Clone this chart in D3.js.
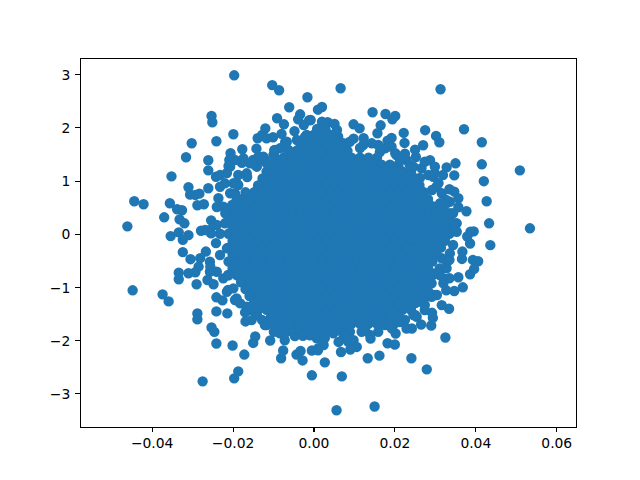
<!DOCTYPE html>
<html><head><meta charset="utf-8">
<script src="https://cdn.jsdelivr.net/npm/d3@7/dist/d3.min.js"></script>
<style>html,body{margin:0;padding:0;background:#fff}svg{display:block}</style>
</head><body><svg id="c" width="640" height="480"></svg>
<script>
const xTicks = [-0.04,-0.02,0,0.02,0.04,0.06];
const xTickLabels = ["\u22120.04","\u22120.02","0.00","0.02","0.04","0.06"];
const yTicks = [-3,-2,-1,0,1,2,3];
const yTickLabels = ["\u22123","\u22122","\u22121","0","1","2","3"];
const xDomain = [-0.05771,0.06488];
const yDomain = [-3.635,3.312];

// Scattered points readable at the edge of the cloud, [x, y]
const upperLeft = [[-.0196,2.979],[-.0102,2.794],[-.0085,2.699],[-.0015,2.567],[-.0060,2.379],[.0011,2.333],[-.0252,2.214],[-.0250,2.096],[-.0090,2.171],[-.0033,2.246],[-.0038,2.152],[-.0011,2.133],[-.0073,2.058],[-.0024,2.045],[-.0119,1.982],[-.0047,1.929],[.0009,1.972],[-.0198,1.872],[-.0240,1.74],[-.0301,1.702],[-.0138,1.797],[-.0127,1.859],[-.0079,1.878],[-.0100,1.816],[-.0116,1.797],[-.0176,1.589],[-.0141,1.6],[-.0097,1.57],[-.0205,1.514],[-.0315,1.438],[-.0260,1.382],[-.0208,1.387],[-.0210,1.274],[-.0260,1.193],[-.0351,1.08],[-.0309,.876],[-.0260,.857],[-.0305,.737],[-.0282,.755],[-.0292,.731],[-.0443,.612],[-.0420,.555],[-.0355,.574],[-.0337,.461],[-.0325,.442],[-.0287,.537],[-.0271,.555],[-.0369,.31],[-.0331,.272],[-.0319,.197],[-.0460,.14],[-.0253,.253],[-.0278,.057],[-.0353,-.043],[-.0333,.027],[-.0309,-.025],[-.0241,1.072],[-.0231,1.104],[-.0239,.504],[-.0235,.669],[-.0218,.386],[-.0268,.07],[-.0253,.008],[-.0214,1.142],[-.0190,.952],[-.0206,.763],[-.0177,1.336],[-.0149,1.387],[-.0124,1.449]];
const upperRight = [[.0067,2.737],[.0314,2.718],[.0021,2.384],[.0146,2.284],[.0178,2.252],[.0202,2.214],[.0195,2.152],[-.0007,2.139],[.0021,2.107],[.0035,2.096],[.0052,2.063],[.0099,2.058],[.0166,2.039],[.0114,1.982],[.0058,1.953],[.0030,1.953],[.0276,1.948],[.0303,1.84],[.0372,1.966],[.0223,1.897],[.0158,1.891],[.0311,1.721],[.0416,1.721],[.0193,1.802],[.0183,1.751],[.0225,1.708],[.0099,1.789],[.0124,1.797],[.0271,1.665],[.0251,1.582],[.0226,1.506],[.0253,1.444],[.0202,1.514],[.0288,1.382],[.0275,1.355],[.0351,1.325],[.0416,1.306],[.0329,1.249],[.0300,1.261],[.0510,1.193],[.0348,1.099],[.0320,1.104],[.0296,1.072],[.0421,.989],[.0309,.952],[.0336,.838],[.0348,.793],[.0358,.669],[.0428,.612],[.0328,.637],[.0313,.574],[.0378,.423],[.0358,.499],[.0338,.386],[.0434,.197],[.0346,.197],[.0535,.103],[.0396,.046],[.0380,-.051],[.0350,.07],[.0388,.038]];
const lowerLeft = [[-.0323,-.113],[-.0323,-.345],[-.0304,-.477],[-.0241,-.175],[-.0266,-.334],[-.0280,-.458],[-.0284,-.617],[-.0333,-.73],[-.0333,-.855],[-.0309,-.742],[-.0292,-.723],[-.0289,-.949],[-.0262,-.868],[-.0247,-.949],[-.0255,-.617],[-.0447,-1.062],[-.0373,-1.138],[-.0358,-1.27],[-.0240,-1.194],[-.0225,-1.251],[-.0181,-1.308],[-.0287,-1.496],[-.0287,-1.609],[-.0240,-1.458],[-.0213,-1.496],[-.0169,-1.477],[-.0168,-1.647],[-.0153,-1.623],[-.0252,-1.76],[-.0245,-1.843],[-.0144,-1.93],[-.0149,-2.051],[-.0098,-1.843],[-.0107,-2.006],[-.0240,-2.062],[-.0200,-2.1],[-.0171,-2.27],[-.0071,-2],[-.0075,-2.194],[-.0080,-2.34],[-.0026,-1.919],[-.0009,-1.906],[-.0004,-2.194],[.0012,-2.151],[-.0042,-2.27],[-.0032,-2.202],[-.0027,-2.38],[-.0186,-2.585],[-.0196,-2.717],[-.0274,-2.773],[-.0004,-2.66],[-.0120,-1.717],[-.0083,-1.811]];
const lowerRight = [[.0437,-.213],[.0387,-.183],[.0368,-.334],[.0367,-.472],[.0336,-.491],[.0394,-.491],[.0407,-.515],[.0397,-.66],[.0387,-.76],[.0358,-.817],[.0336,-.836],[.0321,-.93],[.0369,-1.006],[.0348,-1.075],[.0328,-1.062],[.0292,-1.183],[.0317,-1.34],[.0335,-1.409],[.0293,-1.485],[.0295,-1.579],[.0291,-1.723],[.0266,-1.704],[.0243,-1.779],[.0230,-1.779],[.0255,-1.56],[.0203,-1.874],[.0194,-1.779],[.0326,-1.949],[.0183,-2.057],[.0201,-2.081],[.0141,-1.968],[.0163,-2.289],[.0134,-2.34],[.0242,-2.34],[.0280,-2.548],[.0107,-2.126],[.0091,-2.175],[.0068,-2.221],[.0099,-2],[.0062,-2.032],[.0025,-2.089],[.0011,-2.189],[.0028,-2.416],[.0070,-2.68],[.0057,-3.317],[.0151,-3.245]];

// Crowded band between the solid core and the scattered points
const bandUpperLeft = [[-.0206,1.262],[-.0194,1.387],[-.0173,1.419],[-.0157,1.325],[-.0136,1.449],[-.0120,1.387],[-.0099,1.481],[-.0083,1.607],[-.0066,1.731],[-.0041,1.763],[-.0017,1.857],[0,1.857],[-.0062,1.575],[-.0231,.885],[-.0219,.949],[-.0198,.949],[-.0186,1.105],[-.0165,1.137],[-.0140,1.262],[-.0116,1.325],[-.0194,.761],[-.0223,.509],[-.0206,.479],[-.0190,.635],[-.0219,.197],[-.0256,.071],[-.0239,.165],[-.0231,0],[-.0164,1.068],[-.0186,.917],[-.0144,1.293],[-.0127,1.387],[-.0201,.541],[-.0070,1.726],[-.0095,1.575]];
const bandUpperRight = [[.0074,1.701],[.0090,1.731],[.0123,1.669],[.0144,1.701],[.0160,1.669],[.0177,1.607],[.0193,1.637],[.0205,1.481],[.0230,1.387],[.0247,1.262],[.0267,1.231],[.0284,1.105],[.0300,1.137],[.0304,.885],[.0317,.761],[.0321,.509],[.0337,.603],[.0345,.385],[.0354,.197],[.0354,.039],[.0341,.133],[.0041,1.857],[.0016,1.857],[.0061,1.825],[.0214,1.387],[.0238,1.293],[.0263,1.049],[.0293,.823],[.0325,.541],[.0115,1.613],[.0164,1.538]];
const bandLowerLeft = [[-.0231,-.399],[-.0256,-.525],[-.0239,-.713],[-.0223,-.837],[-.0214,-1.088],[-.0190,-1.213],[-.0198,-1.025],[-.0165,-1.371],[-.0140,-1.527],[-.0116,-1.715],[-.0099,-1.683],[-.0083,-1.871],[-.0066,-1.841],[-.0038,-1.809],[-.0009,-1.871],[-.0058,-1.715],[-.0214,-.273],[-.0256,-.713],[-.0211,-1.057],[-.0194,-1.245],[-.0157,-1.433],[-.0127,-1.621],[-.0095,-1.715],[-.0211,-.775],[-.0046,-1.921]];
const bandLowerRight = [[.0345,-.211],[.0337,-.367],[.0317,-.461],[.0312,-.649],[.0329,-.649],[.0296,-.743],[.0321,-.837],[.0292,-.931],[.0284,-1.088],[.0300,-1.151],[.0267,-1.277],[.0275,-1.433],[.0247,-1.527],[.0226,-1.621],[.0201,-1.683],[.0177,-1.683],[.0160,-1.841],[.0140,-1.903],[.0119,-1.841],[.0090,-1.841],[.0074,-1.965],[.0049,-1.871],[.0024,-1.903],[.0008,-1.965],[.0086,-2.029],[.0330,-.530],[.0312,-.775],[.0305,-1.151],[.0275,-1.339],[.0251,-1.527],[.0214,-1.659],[.0177,-1.715],[.0127,-1.809],[.0078,-1.903],[.0028,-1.959]];

// Solid core of the cloud: single points cannot be read there, so these are
// estimated row by row from its outline.
const coreY = [1.82,1.69,1.56,1.43,1.30,1.17,1.04,.91,.78,.65,.52,.39,.26,.13,0,-.13,-.26,-.39,-.52,-.65,-.78,-.91,-1.04,-1.17,-1.30,-1.43,-1.56,-1.69,-1.82];
const coreX = [
[-.0021,0,.0021,.0042],
[-.0032,-.0011,.0010,.0031,.0052],
[-.0063,-.0042,-.0021,0,.0021,.0042,.0063,.0084],
[-.0095,-.0074,-.0053,-.0032,-.0011,.0010,.0031,.0052,.0073,.0094,.0115,.0136,.0157],
[-.0105,-.0084,-.0063,-.0042,-.0021,0,.0021,.0042,.0063,.0084,.0105,.0126,.0147,.0168,.0189,.0210],
[-.0116,-.0095,-.0074,-.0053,-.0032,-.0011,.0010,.0031,.0052,.0073,.0094,.0115,.0136,.0157,.0178,.0199,.0220,.0241],
[-.0126,-.0105,-.0084,-.0063,-.0042,-.0021,0,.0021,.0042,.0063,.0084,.0105,.0126,.0147,.0168,.0189,.0210,.0231,.0252],
[-.0137,-.0116,-.0095,-.0074,-.0053,-.0032,-.0011,.0010,.0031,.0052,.0073,.0094,.0115,.0136,.0157,.0178,.0199,.0220,.0241,.0262],
[-.0168,-.0147,-.0126,-.0105,-.0084,-.0063,-.0042,-.0021,0,.0021,.0042,.0063,.0084,.0105,.0126,.0147,.0168,.0189,.0210,.0231,.0252,.0273],
[-.0179,-.0158,-.0137,-.0116,-.0095,-.0074,-.0053,-.0032,-.0011,.0010,.0031,.0052,.0073,.0094,.0115,.0136,.0157,.0178,.0199,.0220,.0241,.0262,.0283],
[-.0189,-.0168,-.0147,-.0126,-.0105,-.0084,-.0063,-.0042,-.0021,0,.0021,.0042,.0063,.0084,.0105,.0126,.0147,.0168,.0189,.0210,.0231,.0252,.0273,.0294,.0315],
[-.0200,-.0179,-.0158,-.0137,-.0116,-.0095,-.0074,-.0053,-.0032,-.0011,.0010,.0031,.0052,.0073,.0094,.0115,.0136,.0157,.0178,.0199,.0220,.0241,.0262,.0283,.0304,.0325],
[-.0210,-.0189,-.0168,-.0147,-.0126,-.0105,-.0084,-.0063,-.0042,-.0021,0,.0021,.0042,.0063,.0084,.0105,.0126,.0147,.0168,.0189,.0210,.0231,.0252,.0273,.0294,.0315,.0336],
[-.0200,-.0179,-.0158,-.0137,-.0116,-.0095,-.0074,-.0053,-.0032,-.0011,.0010,.0031,.0052,.0073,.0094,.0115,.0136,.0157,.0178,.0199,.0220,.0241,.0262,.0283,.0304,.0325],
[-.0210,-.0189,-.0168,-.0147,-.0126,-.0105,-.0084,-.0063,-.0042,-.0021,0,.0021,.0042,.0063,.0084,.0105,.0126,.0147,.0168,.0189,.0210,.0231,.0252,.0273,.0294,.0315,.0336],
[-.0200,-.0179,-.0158,-.0137,-.0116,-.0095,-.0074,-.0053,-.0032,-.0011,.0010,.0031,.0052,.0073,.0094,.0115,.0136,.0157,.0178,.0199,.0220,.0241,.0262,.0283,.0304,.0325],
[-.0210,-.0189,-.0168,-.0147,-.0126,-.0105,-.0084,-.0063,-.0042,-.0021,0,.0021,.0042,.0063,.0084,.0105,.0126,.0147,.0168,.0189,.0210,.0231,.0252,.0273,.0294,.0315],
[-.0200,-.0179,-.0158,-.0137,-.0116,-.0095,-.0074,-.0053,-.0032,-.0011,.0010,.0031,.0052,.0073,.0094,.0115,.0136,.0157,.0178,.0199,.0220,.0241,.0262,.0283,.0304],
[-.0210,-.0189,-.0168,-.0147,-.0126,-.0105,-.0084,-.0063,-.0042,-.0021,0,.0021,.0042,.0063,.0084,.0105,.0126,.0147,.0168,.0189,.0210,.0231,.0252,.0273,.0294],
[-.0200,-.0179,-.0158,-.0137,-.0116,-.0095,-.0074,-.0053,-.0032,-.0011,.0010,.0031,.0052,.0073,.0094,.0115,.0136,.0157,.0178,.0199,.0220,.0241,.0262,.0283],
[-.0210,-.0189,-.0168,-.0147,-.0126,-.0105,-.0084,-.0063,-.0042,-.0021,0,.0021,.0042,.0063,.0084,.0105,.0126,.0147,.0168,.0189,.0210,.0231,.0252,.0273,.0294],
[-.0179,-.0158,-.0137,-.0116,-.0095,-.0074,-.0053,-.0032,-.0011,.0010,.0031,.0052,.0073,.0094,.0115,.0136,.0157,.0178,.0199,.0220,.0241,.0262,.0283],
[-.0168,-.0147,-.0126,-.0105,-.0084,-.0063,-.0042,-.0021,0,.0021,.0042,.0063,.0084,.0105,.0126,.0147,.0168,.0189,.0210,.0231,.0252,.0273],
[-.0158,-.0137,-.0116,-.0095,-.0074,-.0053,-.0032,-.0011,.0010,.0031,.0052,.0073,.0094,.0115,.0136,.0157,.0178,.0199,.0220,.0241,.0262,.0283],
[-.0147,-.0126,-.0105,-.0084,-.0063,-.0042,-.0021,0,.0021,.0042,.0063,.0084,.0105,.0126,.0147,.0168,.0189,.0210,.0231,.0252],
[-.0137,-.0116,-.0095,-.0074,-.0053,-.0032,-.0011,.0010,.0031,.0052,.0073,.0094,.0115,.0136,.0157,.0178,.0199,.0220,.0241],
[-.0105,-.0084,-.0063,-.0042,-.0021,0,.0021,.0042,.0063,.0084,.0105,.0126,.0147,.0168,.0189,.0210],
[-.0074,-.0053,-.0032,-.0011,.0010,.0031,.0052,.0073,.0094,.0115,.0136,.0157],
[-.0042,-.0021,0,.0021,.0042,.0063,.0084]
];

const corePoints = coreY.flatMap((y, i) => coreX[i].map(x => [x, y]));
const points = [...corePoints, ...bandUpperLeft, ...bandUpperRight, ...bandLowerLeft, ...bandLowerRight, ...upperLeft, ...upperRight, ...lowerLeft, ...lowerRight];

const plotLeft = 80, plotRight = 576, plotTop = 58, plotBottom = 427;
const svg = d3.select("#c");
const x = d3.scaleLinear().domain(xDomain).range([plotLeft, plotRight]);
const y = d3.scaleLinear().domain(yDomain).range([427.2, 57.6]);

svg.append("g").selectAll("circle").data(points).join("circle")
  .attr("cx", d => x(d[0])).attr("cy", d => y(d[1]))
  .attr("r", 4.17).attr("fill", "#1f77b4").attr("stroke", "#1f77b4").attr("stroke-width", 2.08);

const xAxis = d3.axisBottom(x).tickValues(xTicks).tickFormat((d, i) => xTickLabels[i]).tickSize(4.86).tickSizeOuter(0).tickPadding(6.3);
const yAxis = d3.axisLeft(y).tickValues(yTicks).tickFormat((d, i) => yTickLabels[i]).tickSize(4.86).tickSizeOuter(0).tickPadding(4.86);
const gx = svg.append("g").attr("transform", `translate(0,${plotBottom})`).call(xAxis);
const gy = svg.append("g").attr("transform", `translate(${plotLeft},0)`).call(yAxis);
[gx, gy].forEach(g => {
  g.selectAll(".domain").remove();
  g.selectAll("line").attr("stroke", "#000").attr("stroke-width", 1.11).attr("shape-rendering", "crispEdges");
  g.selectAll("text").attr("fill", "#000").attr("font-family", "'DejaVu Sans'").attr("font-size", 13.89);
});
gy.selectAll("text").attr("dy", "0.37em");
svg.append("rect").attr("x", plotLeft + .5).attr("y", plotTop + .5).attr("width", plotRight - plotLeft).attr("height", plotBottom - plotTop)
  .attr("fill", "none").attr("stroke", "#000").attr("stroke-width", 1.11).attr("shape-rendering", "crispEdges");
</script></body></html>
